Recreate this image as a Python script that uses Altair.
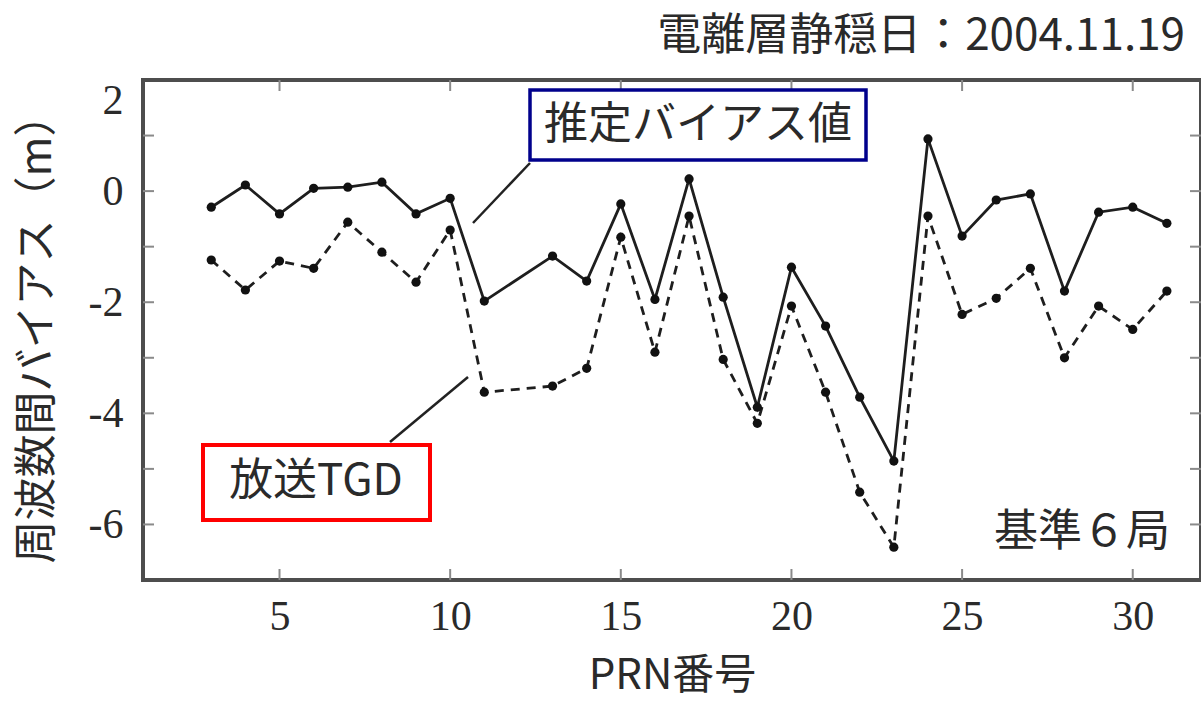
import altair as alt
import pandas as pd

# PRN numbers of the satellites observed (PRN 1, 2 and 12 absent)
prn = [3, 4, 5, 6, 7, 8, 9, 10, 11, 13, 14, 15, 16, 17, 18, 19, 20,
       21, 22, 23, 24, 25, 26, 27, 28, 29, 30, 31]
# Estimated inter-frequency bias (m)
estimated_bias = [-0.29, 0.11, -0.41, 0.05, 0.07, 0.16, -0.41, -0.13, -1.98,
                  -1.17, -1.62, -0.23, -1.95, 0.22, -1.91, -3.89, -1.37, -2.43,
                  -3.71, -4.86, 0.94, -0.81, -0.16, -0.05, -1.80, -0.38, -0.29,
                  -0.58]
# Broadcast TGD (m)
broadcast_tgd = [-1.24, -1.78, -1.26, -1.39, -0.56, -1.10, -1.64, -0.70, -3.62,
                 -3.51, -3.19, -0.83, -2.90, -0.45, -3.03, -4.18, -2.07, -3.62,
                 -5.42, -6.41, -0.45, -2.22, -1.93, -1.39, -3.00, -2.07, -2.49,
                 -1.80]

x_ticks = [5, 10, 15, 20, 25, 30]
y_labels = [-6, -4, -2, 0, 2]
y_minor = [-6, -5, -4, -3, -2, -1, 0, 1]

W, H = 1058, 500
JP = "Noto Sans CJK JP"
NUM = "Liberation Serif"
INK = "#2a2a2a"

df = pd.DataFrame({"prn": prn, "est": estimated_bias, "tgd": broadcast_tgd})
one = alt.Data(values=[{}])

xscale = alt.Scale(domain=[1, 32], nice=False, zero=False)
yscale = alt.Scale(domain=[-7, 2], nice=False, zero=False)

x_axis = alt.Axis(values=x_ticks, labelExpr="datum.value + ''",
                  title="PRN番号", domain=False,
                  ticks=False, grid=False, labelFont=NUM, labelFontSize=42,
                  labelColor=INK, labelPadding=16, labelFlush=False,
                  titleFont=JP, titleFontSize=42, titleFontWeight="normal",
                  titleColor=INK, titleY=95, titleBaseline="middle")
y_axis = alt.Axis(values=y_labels, labelExpr="datum.value + ''",
                  title="周波数間バイアス（m）",
                  domain=False, ticks=False, grid=False, labelFont=NUM,
                  labelFontSize=42, labelColor=INK, labelPadding=20,
                  labelFlush=True,
                  titleFont=JP, titleFontSize=43, titleFontWeight="normal",
                  titleColor=INK, titleX=-106, titleY=248, titleAngle=270,
                  titleAlign="center", titleBaseline="middle")

base = alt.Chart(df)

est_line = base.mark_line(color="#1e1e1e", strokeWidth=2.8).encode(
    x=alt.X("prn:Q", scale=xscale, axis=x_axis),
    y=alt.Y("est:Q", scale=yscale, axis=y_axis),
)
est_pts = base.mark_circle(color="#111", size=85, opacity=1).encode(
    x=alt.X("prn:Q", scale=xscale), y=alt.Y("est:Q", scale=yscale))

tgd_line = base.mark_line(color="#1e1e1e", strokeWidth=2.8,
                          strokeDash=[9, 7]).encode(
    x=alt.X("prn:Q", scale=xscale), y=alt.Y("tgd:Q", scale=yscale))
tgd_pts = base.mark_circle(color="#111", size=85, opacity=1).encode(
    x=alt.X("prn:Q", scale=xscale), y=alt.Y("tgd:Q", scale=yscale))

# Inward tick marks on all four sides
ytick_df = pd.DataFrame({"v": y_minor})
xtick_df = pd.DataFrame({"v": x_ticks})
tick_style = dict(color="#8a8a8a", strokeWidth=2)
ticks = [
    alt.Chart(ytick_df).mark_rule(**tick_style).encode(
        y=alt.Y("v:Q", scale=yscale), x=alt.value(0), x2=alt.value(11)),
    alt.Chart(ytick_df).mark_rule(**tick_style).encode(
        y=alt.Y("v:Q", scale=yscale), x=alt.value(W - 11), x2=alt.value(W)),
    alt.Chart(xtick_df).mark_rule(**tick_style).encode(
        x=alt.X("v:Q", scale=xscale), y=alt.value(H - 11), y2=alt.value(H)),
    alt.Chart(xtick_df).mark_rule(**tick_style).encode(
        x=alt.X("v:Q", scale=xscale), y=alt.value(0), y2=alt.value(11)),
]

# Callout for the estimated bias
est_leader = alt.Chart(one).mark_rule(color="#222", strokeWidth=2.5).encode(
    x=alt.value(387), y=alt.value(83), x2=alt.value(330), y2=alt.value(143))
est_box = alt.Chart(one).mark_rect(fill="white", stroke="#00008c",
                                   strokeWidth=3.5).encode(
    x=alt.value(387), x2=alt.value(723), y=alt.value(10), y2=alt.value(80))
est_text = alt.Chart(one).mark_text(text="推定バイアス値", font=JP, fontSize=44,
                                    color=INK, align="center",
                                    baseline="middle").encode(
    x=alt.value(555), y=alt.value(46))

# Callout for the broadcast TGD
tgd_leader = alt.Chart(one).mark_rule(color="#222", strokeWidth=2.5).encode(
    x=alt.value(247), y=alt.value(362), x2=alt.value(325), y2=alt.value(297))
tgd_box = alt.Chart(one).mark_rect(fill="white", stroke="#ff0000",
                                   strokeWidth=4).encode(
    x=alt.value(60), x2=alt.value(287), y=alt.value(365), y2=alt.value(440))
tgd_text = alt.Chart(one).mark_text(text="放送TGD", font=JP, fontSize=44,
                                    color=INK, align="center",
                                    baseline="middle").encode(
    x=alt.value(173), y=alt.value(402))

station_text = alt.Chart(one).mark_text(text="基準６局", font=JP, fontSize=44,
                                        color=INK, align="right",
                                        baseline="middle").encode(
    x=alt.value(1027), y=alt.value(453))

chart = alt.layer(
    est_line, tgd_line, *ticks, est_pts, tgd_pts,
    est_leader, est_box, est_text,
    tgd_leader, tgd_box, tgd_text,
    station_text,
).properties(
    width=W, height=H,
    title=alt.TitleParams("電離層静穏日：2004.11.19", anchor="end",
                          frame="group", font=JP, fontSize=44,
                          fontWeight="normal", color=INK, dx=-16, offset=20),
    autosize=alt.AutoSizeParams(type="none"),
    padding={"left": 143, "top": 80, "right": 0, "bottom": 120},
    background="white",
).configure_view(stroke="#4d4d4d", strokeWidth=4)

chart.save("out.html", embed_options={"renderer": "svg", "actions": False})
